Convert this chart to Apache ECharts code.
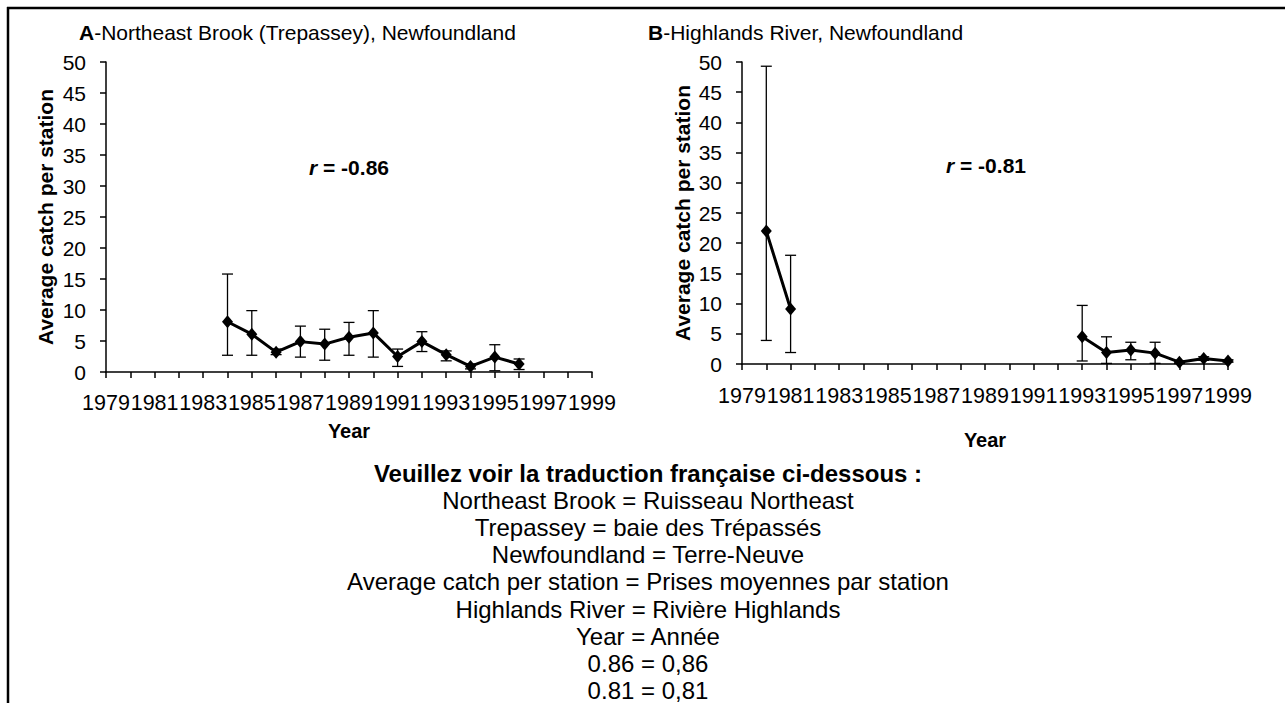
<!DOCTYPE html>
<html>
<head>
<meta charset="utf-8">
<title>Average catch per station</title>
<script src="https://cdn.jsdelivr.net/npm/echarts@6/dist/echarts.min.js"></script>
<style>
  html, body { margin: 0; padding: 0; background: #fff; }
  #chart { width: 1285px; height: 703px; }
</style>
</head>
<body>
<div id="chart"></div>
<script>
  var F = 'Arial, "Liberation Sans", Helvetica, sans-serif';

  // categories
  var years = ['1979','1980','1981','1982','1983','1984','1985','1986','1987','1988','1989',
               '1990','1991','1992','1993','1994','1995','1996','1997','1998','1999'];
  var yTicks = { min: 0, max: 50, step: 5 };

  // A - Northeast Brook (Trepassey)
  var meanA = [null,null,null,null,null, 8.1,6.1,3.2,4.9,4.5,5.6,6.3,2.5,4.9,2.8,0.9,2.4,1.3, null,null,null];
  var lowA  = [null,null,null,null,null, 2.7,2.7,2.8,2.4,1.9,2.7,2.4,0.9,3.3,1.8,0.5,0.2,0.4, null,null,null];
  var highA = [null,null,null,null,null, 15.8,9.9,3.7,7.4,6.9,8.0,9.9,3.7,6.5,3.4,1.3,4.4,2.1, null,null,null];

  // B - Highlands River
  var meanB = [null,22.0,9.1, null,null,null,null,null,null,null,null,null,null,null, 4.5,1.9,2.3,1.8,0.3,0.9,0.5];
  var lowB  = [null,3.9,1.9,  null,null,null,null,null,null,null,null,null,null,null, 0.5,0.1,0.7,0.1,0.1,0.6,0.3];
  var highB = [null,49.3,18.0,null,null,null,null,null,null,null,null,null,null,null, 9.7,4.5,3.6,3.6,0.5,1.2,0.7];

  var titleA = ['A', '-Northeast Brook (Trepassey), Newfoundland'];
  var titleB = ['B', '-Highlands River, Newfoundland'];
  var rA = '-0.86';
  var rB = '-0.81';

  var transLines = [
    'Veuillez voir la traduction française ci-dessous :',
    'Northeast Brook = Ruisseau Northeast',
    'Trepassey = baie des Trépassés',
    'Newfoundland = Terre-Neuve',
    'Average catch per station = Prises moyennes par station',
    'Highlands River = Rivière Highlands',
    'Year = Année',
    '0.86 = 0,86',
    '0.81 = 0,81'
  ];

  function barData(lo, hi) {
    var out = [];
    for (var i = 0; i < years.length; i++) {
      if (lo[i] != null) out.push([i, lo[i], hi[i]]);
    }
    return out;
  }

  // vertical error bar with caps
  function errorBars(params, api) {
    var x = api.value(0);
    var lo = api.coord([x, api.value(1)]);
    var hi = api.coord([x, api.value(2)]);
    var half = 5.5;
    var st = { stroke: '#000', lineWidth: 1.3 };
    return {
      type: 'group',
      children: [
        { type: 'line', shape: { x1: lo[0], y1: lo[1], x2: hi[0], y2: hi[1] }, style: st },
        { type: 'line', shape: { x1: lo[0] - half, y1: lo[1], x2: lo[0] + half, y2: lo[1] }, style: st },
        { type: 'line', shape: { x1: hi[0] - half, y1: hi[1], x2: hi[0] + half, y2: hi[1] }, style: st }
      ]
    };
  }

  function xAxisFor(idx, margin, nameGap) {
    return {
      gridIndex: idx, type: 'category', data: years, boundaryGap: false,
      axisLine: { lineStyle: { color: '#000', width: 1.5 } },
      axisTick: { show: true, interval: 0, length: 6, lineStyle: { color: '#000', width: 1.5 } },
      axisLabel: {
        interval: 1, hideOverlap: false, showMinLabel: true, showMaxLabel: true,
        margin: margin, color: '#000', fontSize: 21.5, fontFamily: F
      },
      splitLine: { show: false },
      name: 'Year', nameLocation: 'middle', nameGap: nameGap,
      nameTextStyle: { fontWeight: 'bold', fontSize: 20, fontFamily: F, color: '#000' }
    };
  }

  function yAxisFor(idx, nameGap) {
    return {
      gridIndex: idx, type: 'value', min: yTicks.min, max: yTicks.max, interval: yTicks.step,
      axisLine: { show: true, lineStyle: { color: '#000', width: 1.5 } },
      axisTick: { show: true, length: 6, lineStyle: { color: '#000', width: 1.5 } },
      axisLabel: { margin: 20, color: '#000', fontSize: 21, fontFamily: F },
      splitLine: { show: false },
      name: 'Average catch per station', nameLocation: 'middle', nameRotate: 90, nameGap: nameGap,
      nameTextStyle: { fontWeight: 'bold', fontSize: 21, fontFamily: F, color: '#000' }
    };
  }

  function lineSeries(idx, data) {
    return {
      type: 'line', xAxisIndex: idx, yAxisIndex: idx, data: data, z: 3,
      symbol: 'diamond', symbolSize: [11, 13], showSymbol: true, connectNulls: false,
      lineStyle: { color: '#000', width: 3 }, itemStyle: { color: '#000' }
    };
  }

  function barSeries(idx, lo, hi) {
    return {
      type: 'custom', xAxisIndex: idx, yAxisIndex: idx, z: 2,
      data: barData(lo, hi), encode: { x: 0, y: [1, 2] }, renderItem: errorBars
    };
  }

  function rich(size) {
    return {
      b: { fontWeight: 'bold', fontSize: size, fontFamily: F, fill: '#000' },
      n: { fontSize: size, fontFamily: F, fill: '#000' },
      i: { fontWeight: 'bold', fontStyle: 'italic', fontSize: size, fontFamily: F, fill: '#000' }
    };
  }

  var graphics = [
    { type: 'line', shape: { x1: 7, y1: 8, x2: 1285, y2: 8 }, style: { stroke: '#000', lineWidth: 2.5 } },
    { type: 'line', shape: { x1: 8, y1: 7, x2: 8, y2: 703 }, style: { stroke: '#000', lineWidth: 2.5 } },
    { type: 'text', x: 79, y: 32, style: { text: '{b|' + titleA[0] + '}{n|' + titleA[1] + '}', rich: rich(21), verticalAlign: 'middle' } },
    { type: 'text', x: 648, y: 32, style: { text: '{b|' + titleB[0] + '}{n|' + titleB[1] + '}', rich: rich(21), verticalAlign: 'middle' } },
    { type: 'text', x: 349, y: 167, style: { text: '{i|r}{b| = ' + rA + '}', rich: rich(21), align: 'center', verticalAlign: 'middle' } },
    { type: 'text', x: 986, y: 165, style: { text: '{i|r}{b| = ' + rB + '}', rich: rich(21), align: 'center', verticalAlign: 'middle' } }
  ];
  transLines.forEach(function (t, i) {
    graphics.push({
      type: 'text', x: 648, y: 473 + i * 27.2,
      style: {
        text: t, align: 'center', verticalAlign: 'middle', fill: '#000',
        font: (i === 0 ? 'bold ' : '') + '24px ' + F
      }
    });
  });

  var chart = echarts.init(document.getElementById('chart'), null, { renderer: 'svg' });
  chart.setOption({
    animation: false,
    backgroundColor: '#fff',
    textStyle: { fontFamily: F, color: '#000' },
    grid: [
      { left: 106, top: 62, width: 486, height: 310 },
      { left: 742, top: 62, width: 486, height: 302 }
    ],
    xAxis: [xAxisFor(0, 20, 49), xAxisFor(1, 21, 66)],
    yAxis: [yAxisFor(0, 50), yAxisFor(1, 49)],
    series: [
      barSeries(0, lowA, highA),
      lineSeries(0, meanA),
      barSeries(1, lowB, highB),
      lineSeries(1, meanB)
    ],
    graphic: graphics
  });
</script>
</body>
</html>
